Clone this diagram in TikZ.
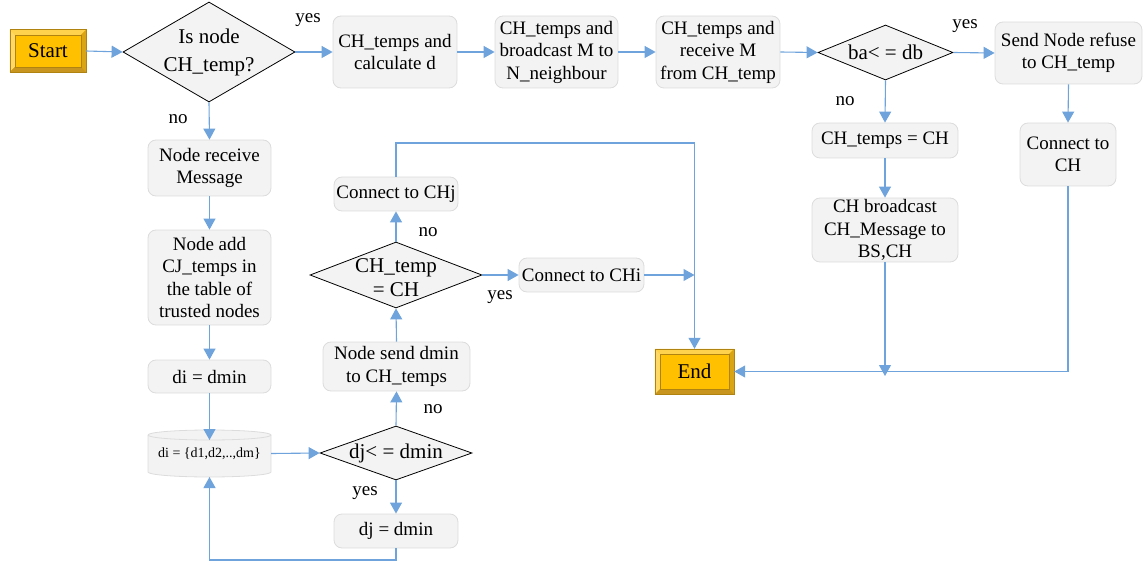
\documentclass[tikz,border=0pt]{standalone}
\usepackage{fontspec}
\setmainfont{Liberation Serif}
\usetikzlibrary{shapes.geometric,arrows.meta,calc}
\definecolor{boxfill}{HTML}{F3F3F3}
\definecolor{boxline}{HTML}{DCDCDC}
\definecolor{arr}{HTML}{6FA3DB}
\definecolor{gold}{HTML}{FFC000}
\definecolor{goldtop}{HTML}{FFD24D}
\definecolor{goldleft}{HTML}{FFD966}
\definecolor{goldright}{HTML}{D9A514}
\definecolor{goldbot}{HTML}{C8961E}
\definecolor{goldedge}{HTML}{B08310}
\newcommand\fs{\fontsize{19}{22.5}\selectfont}
\newcommand\fsd{\fontsize{21}{24}\selectfont}
\newcommand\fsdw{\fontsize{21}{28}\selectfont}
\newcommand\fst{\fontsize{21}{24}\selectfont}
\newcommand\fsm{\fontsize{14}{16}\selectfont}
\newcommand\bevelbox[1]{%
  \coordinate (#1NWi) at ($(#1.north west)+(5,5)$);
  \coordinate (#1NEi) at ($(#1.north east)+(-5,5)$);
  \coordinate (#1SEi) at ($(#1.south east)+(-5,-5)$);
  \coordinate (#1SWi) at ($(#1.south west)+(5,-5)$);
  \fill[goldtop] (#1.north west) -- (#1.north east) -- (#1NEi) -- (#1NWi) -- cycle;
  \fill[goldleft] (#1.north west) -- (#1NWi) -- (#1SWi) -- (#1.south west) -- cycle;
  \fill[goldright] (#1.north east) -- (#1.south east) -- (#1SEi) -- (#1NEi) -- cycle;
  \fill[goldbot] (#1.south west) -- (#1.south east) -- (#1SEi) -- (#1SWi) -- cycle;
  \draw[goldedge, line width=0.6pt] (#1.north west) rectangle (#1.south east);
  \draw[goldedge, line width=0.5pt] (#1NWi) rectangle (#1SEi);
}
\begin{document}
\begin{tikzpicture}[x=1pt,y=-1pt,
  box/.style={draw=boxline, fill=boxfill, rounded corners=8pt, line width=0.8pt,
    align=center, inner sep=0pt, font=\fs},
  dia/.style={shape=diamond, draw=black, fill=boxfill, line width=0.8pt, inner sep=0pt},
  dtext/.style={align=center, inner sep=0pt, font=\fsd},
  lbl/.style={inner sep=0pt, font=\fs},
  term/.style={rectangle, fill=gold, inner sep=0pt},
  arrow/.style={draw=arr, line width=1.1pt, -{Triangle[width=12pt,length=11pt]}},
  line/.style={draw=arr, line width=1.1pt}]
\useasboundingbox (0,0) rectangle (1144,567);

% terminals
\node[term, minimum width=76, minimum height=42] (start) at (48,51) {};
\bevelbox{start}
\node[inner sep=0pt, font=\fst] at (start) {Start};
\node[term, minimum width=79, minimum height=45] (end) at (694.5,371.5) {};
\bevelbox{end}
\node[inner sep=0pt, font=\fst] at (end) {End};

% diamonds
\node[dia, minimum width=172, minimum height=100] (d1) at (209,52) {};
\node[dtext, font=\fsdw] at (d1) {Is node\\CH\_temp?};
\node[dia, minimum width=135, minimum height=55] (d2) at (885.5,52.5) {};
\node[dtext] at (d2) {ba< = db};
\node[dia, minimum width=172, minimum height=66] (d3) at (396,275) {};
\node[dtext] at ($(d3)+(0,3)$) {CH\_temp\\= CH};
\node[dia, minimum width=152, minimum height=54] (d4) at (396,453) {};
\node[dtext] at (d4) {dj< = dmin};

% boxes
\node[box, minimum width=124, minimum height=72] (calc) at (395,52) {CH\_temps and\\calculate d};
\node[box, minimum width=123, minimum height=72] (bcast) at (556.5,52) {CH\_temps and\\broadcast M to\\N\_neighbour};
\node[box, minimum width=124, minimum height=72] (recv) at (718,52) {CH\_temps and\\receive M\\from CH\_temp};
\node[box, minimum width=147, minimum height=62] (refuse) at (1068.5,53) {Send Node refuse\\to CH\_temp};
\node[box, minimum width=146, minimum height=35] (chtemps) at (885,140.5) {CH\_temps = CH};
\node[box, minimum width=96, minimum height=63] (connCH) at (1068,154.5) {Connect to\\CH};
\node[box, minimum width=146, minimum height=64] (chbc) at (885,230) {CH broadcast\\CH\_Message to\\BS,CH};
\node[box, minimum width=125, minimum height=34] (connCHi) at (581.5,275) {Connect to CHi};
\node[box, minimum width=124, minimum height=34] (connCHj) at (396,194) {Connect to CHj};
\node[box, minimum width=147, minimum height=49] (sendmin) at (396.5,366.5) {Node send dmin\\to CH\_temps};
\node[box, minimum width=124, minimum height=34] (djdmin) at (396,531) {dj = dmin};
\node[box, minimum width=123, minimum height=56] (recvmsg) at (209.5,168) {Node receive\\Message};
\node[box, minimum width=123, minimum height=95] (addcj) at (209.5,277.5) {Node add\\CJ\_temps in\\the table of\\trusted nodes};
\node[box, minimum width=123, minimum height=33] (didmin) at (209.5,376.5) {di = dmin};

% cylinder
\fill[boxfill] (148,435) -- (148,472) arc[start angle=180, end angle=0, x radius=61.5, y radius=5]
  -- (271,435) arc[start angle=0, end angle=-180, x radius=61.5, y radius=5] -- cycle;
\draw[boxline, line width=0.8pt] (148,435) -- (148,472) arc[start angle=180, end angle=0, x radius=61.5, y radius=5]
  -- (271,435) arc[start angle=0, end angle=-180, x radius=61.5, y radius=5];
\draw[boxline, line width=0.8pt] (148,435) arc[start angle=180, end angle=0, x radius=61.5, y radius=5];
\node[inner sep=0pt, minimum width=123, minimum height=37, font=\fsm] (cyl) at (209.5,453.5) {di = \{d1,d2,..,dm\}};
\coordinate (cyltop) at (209.5,440);
\coordinate (cylbot) at (209.5,477);

% labels
\node[lbl] (y1) at (308,20) {yes};
\node[lbl] (n1) at (178,119) {no};
\node[lbl] (y2) at (965,26) {yes};
\node[lbl] (n2) at (845,101) {no};
\node[lbl] (n3) at (428,232) {no};
\node[lbl] (y3) at (500,297) {yes};
\node[lbl] (n4) at (433,409) {no};
\node[lbl] (y4) at (365,493) {yes};

% coordinates
\coordinate (topc) at (694.5,143);
\coordinate (jCHi) at (694.5,275);
\coordinate (jbc) at (885,376);
\coordinate (loopc) at (396,560);

% connectors
\draw[arrow] (start.east) -- (d1.west);
\draw[arrow] (d1.east) -- (calc.west);
\draw[arrow] (calc.east) -- (bcast.west);
\draw[arrow] (bcast.east) -- (recv.west);
\draw[arrow] (recv.east) -- (d2.west);
\draw[arrow] (d2.east) -- (refuse.west);
\draw[arrow] (d1.south) -- (recvmsg.north);
\draw[arrow] (recvmsg.south) -- (addcj.north);
\draw[arrow] (addcj.south) -- (didmin.north);
\draw[arrow] (didmin.south) -- (cyltop);
\draw[arrow] (cyl.east) -- (d4.west);
\draw[arrow] (d4.south) -- (djdmin.north);
\draw[arrow] (djdmin.south) -- (loopc) -| (cylbot);
\draw[arrow] (d4.north) -- (sendmin.south);
\draw[arrow] (sendmin.north) -- (d3.south);
\draw[arrow] (d3.north) -- (connCHj.south);
\draw[arrow] (d3.east) -- (connCHi.west);
\draw[arrow] (connCHi.east) -- (jCHi);
\draw[arrow] (connCHj.north) |- (topc) -- (end.north);
\draw[arrow] (d2.south) -- (chtemps.north);
\draw[arrow] (chtemps.south) -- (chbc.north);
\draw[arrow] (chbc.south) -- (jbc);
\draw[arrow] (refuse.south) -- (connCH.north);
\draw[arrow] (connCH.south) |- (end.east);
\end{tikzpicture}
\end{document}
